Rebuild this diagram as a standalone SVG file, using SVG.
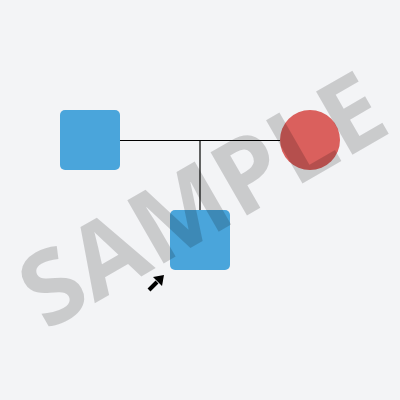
<svg xmlns="http://www.w3.org/2000/svg" width="400" height="400" viewBox="0 0 400 400">
  <style>
    .box { fill: #4aa5db; }
    .wire { stroke: #000; stroke-width: 1.2; fill: none; }
    .mark { font-family: "Open Sans", "Noto Sans", sans-serif; font-weight: bold; font-size: 102px; fill: #000; fill-opacity: 0.17; }
  </style>
  <rect width="400" height="400" fill="#f3f4f6"/>
  <g id="connectors">
    <path class="wire" d="M120 140.5 H280"/>
    <path class="wire" d="M200 140.5 V210"/>
  </g>
  <g id="node-a">
    <rect class="box" x="60" y="110" width="60" height="60" rx="5"/>
  </g>
  <g id="node-b">
    <circle cx="310" cy="140" r="30" fill="#da605d"/>
  </g>
  <g id="node-c">
    <rect class="box" x="170" y="210" width="60" height="60" rx="5"/>
  </g>
  <g id="cursor">
    <path d="M149 290 L157 282" stroke="#000" stroke-width="4"/>
    <polygon points="164,275 162,286 153,277" fill="#000"/>
  </g>
  <text class="mark" x="0" y="0" text-anchor="middle" transform="translate(220 231) rotate(-30)">SAMPLE</text>
</svg>
